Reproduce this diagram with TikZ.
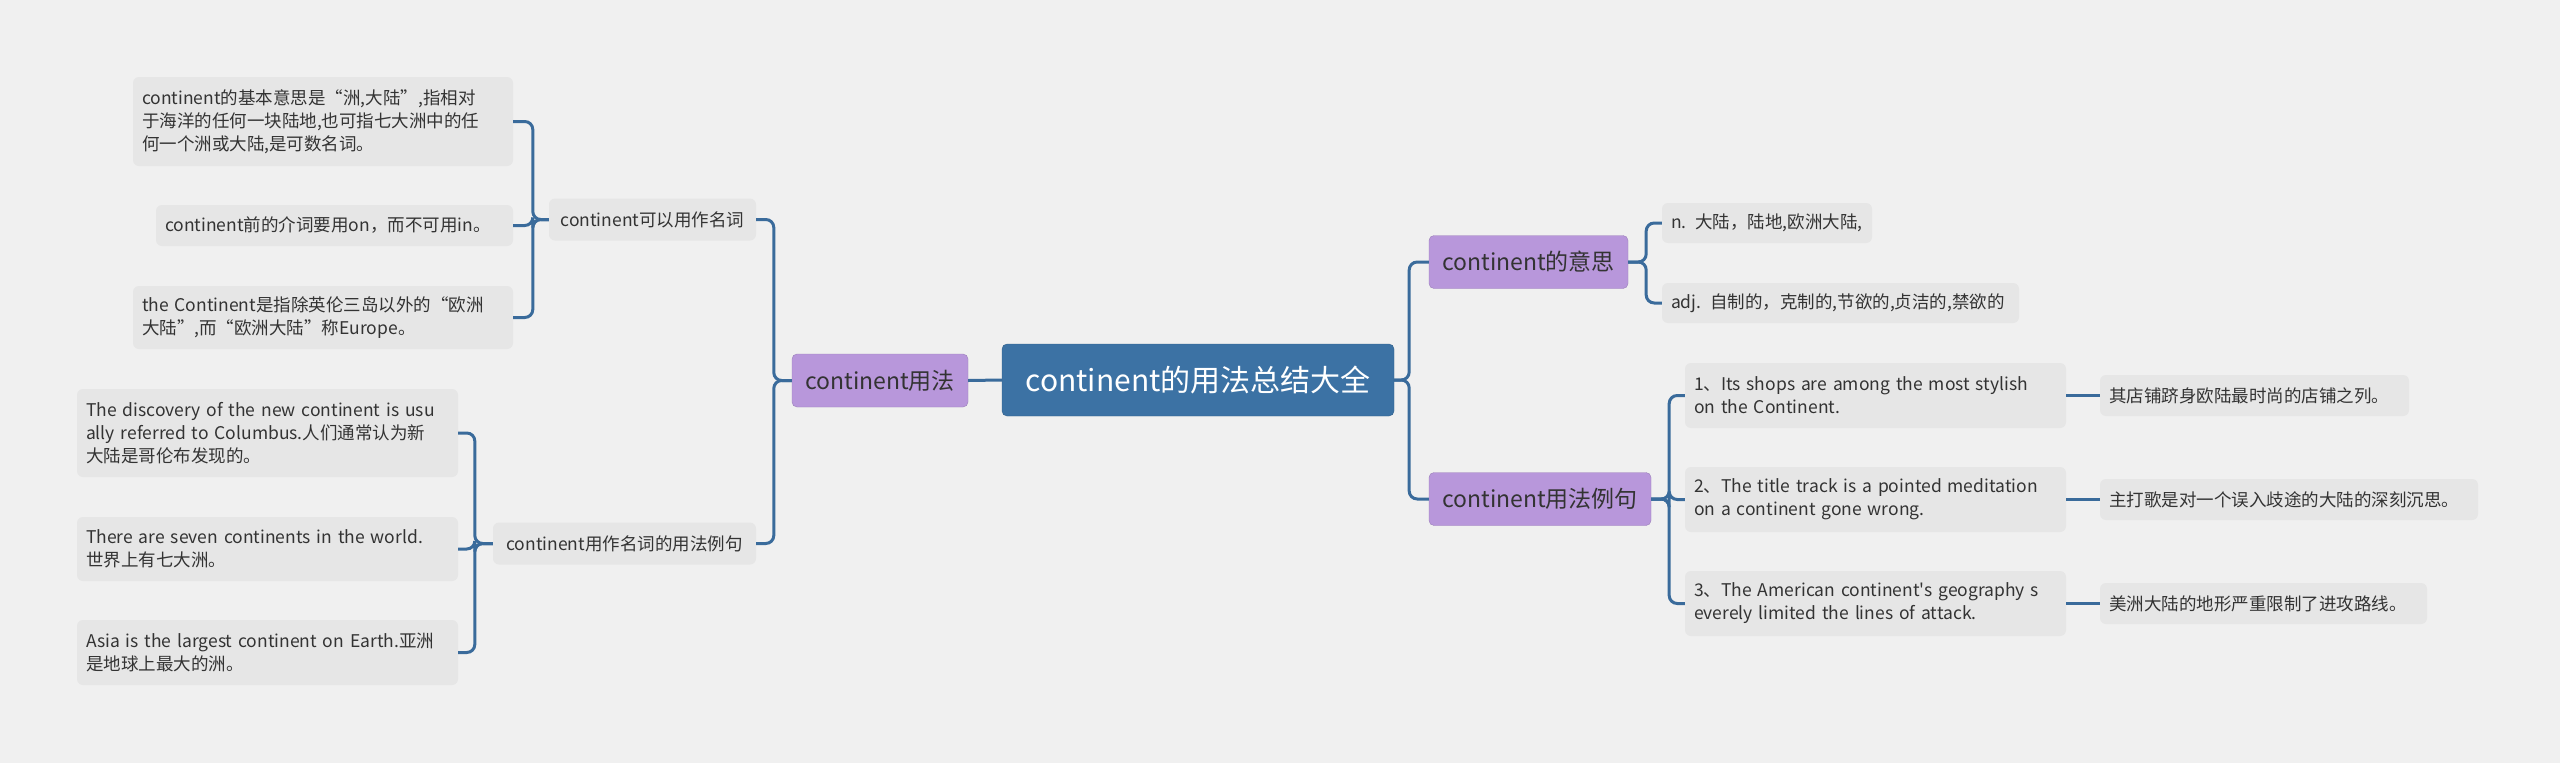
\documentclass[tikz,border=0pt]{standalone}
\usepackage{fontspec}
\setmainfont{Noto Sans CJK SC}[Ligatures=TeXOff]
\usepackage{tikz}
\usetikzlibrary{positioning,calc}
\definecolor{fondo}{HTML}{F0F0F0}
\definecolor{raizazul}{HTML}{3C72A4}
\definecolor{ramamorado}{HTML}{B897DB}
\definecolor{hojagris}{HTML}{E6E6E6}
\definecolor{lineaazul}{HTML}{3A6B9B}
\definecolor{texto}{HTML}{333333}

\begin{document}
\begin{tikzpicture}[
  x=1pt, y=-1pt,
  root/.style={
    fill=raizazul, draw=raizazul!85!black, rounded corners=5pt,
    text=white, font=\fontsize{30}{34}\selectfont,
    minimum width=392pt, minimum height=72pt
  },
  rama/.style={
    fill=ramamorado, draw=ramamorado!85!black, rounded corners=5pt,
    text=texto, font=\fontsize{23}{27}\selectfont, minimum height=53pt
  },
  sub/.style={
    fill=hojagris, rounded corners=6pt, text=texto,
    font=\fontsize{17.5}{23}\selectfont, minimum height=42pt
  },
  hoja/.style={
    fill=hojagris, rounded corners=6pt, text=texto, align=left,
    font=\fontsize{17.5}{23}\selectfont, inner xsep=9pt
  },
  link/.style={draw=lineaazul, line width=3pt, rounded corners=8pt}
]
\useasboundingbox[fill=fondo] (0,0) rectangle (2560,763);

% Raiz
\node[root] (raiz) at (1198,380) {continent的用法总结大全};

% Ramas principales
\node[rama, minimum width=176pt] (uso) at (880,380.5) {continent用法};
\node[rama, minimum width=199pt] (sentido) at (1528.5,262) {continent的意思};
\node[rama, minimum width=222pt] (ejemplos) at (1540,499) {continent用法例句};

% Subramas izquierda
\node[sub, minimum width=207pt] (sustantivo) at (652.5,219.5) {continent可以用作名词};
\node[sub, minimum width=263pt] (frases) at (624.5,543.5) {continent用作名词的用法例句};

% Hojas: sustantivo
\node[hoja, text width=362pt, minimum height=89pt] (def1) at (323,121.5)
  {continent的基本意思是“洲,大陆”,指相对\\于海洋的任何一块陆地,也可指七大洲中的任\\何一个洲或大陆,是可数名词。};
\node[hoja, text width=339pt, minimum height=41pt] (def2) at (334.5,225.5)
  {continent前的介词要用on，而不可用in。};
\node[hoja, text width=362pt, minimum height=63pt] (def3) at (323,317.5)
  {the Continent是指除英伦三岛以外的“欧洲\\大陆”,而“欧洲大陆”称Europe。};

% Hojas: frases
\node[hoja, text width=363pt, minimum height=88pt] (frase1) at (267.5,433)
  {The discovery of the new continent is usu\\ally referred to Columbus.人们通常认为新\\大陆是哥伦布发现的。};
\node[hoja, text width=363pt, minimum height=64pt] (frase2) at (267.5,549)
  {There are seven continents in the world.\\世界上有七大洲。};
\node[hoja, text width=363pt, minimum height=65pt] (frase3) at (267.5,652.5)
  {Asia is the largest continent on Earth.亚洲\\是地球上最大的洲。};

% Hojas: sentido
\node[hoja, text width=192pt, minimum height=40pt] (nom) at (1767,223)
  {n. 大陆，陆地,欧洲大陆,};
\node[hoja, text width=339pt, minimum height=40pt] (adj) at (1840.5,303)
  {adj. 自制的，克制的,节欲的,贞洁的,禁欲的};

% Hojas: ejemplos
\node[hoja, text width=363pt, minimum height=65pt] (ej1) at (1875.5,395.5)
  {1、Its shops are among the most stylish\\on the Continent.};
\node[hoja, text width=363pt, minimum height=65pt] (ej2) at (1875.5,499.5)
  {2、The title track is a pointed meditation\\on a continent gone wrong.};
\node[hoja, text width=363pt, minimum height=65pt] (ej3) at (1875.5,603.5)
  {3、The American continent's geography s\\everely limited the lines of attack.};

% Traducciones
\node[hoja, text width=291pt, minimum height=41pt] (tr1) at (2254.5,395.5)
  {其店铺跻身欧陆最时尚的店铺之列。};
\node[hoja, text width=360pt, minimum height=41pt] (tr2) at (2289,499.5)
  {主打歌是对一个误入歧途的大陆的深刻沉思。};
\node[hoja, text width=309pt, minimum height=41pt] (tr3) at (2263.5,603.5)
  {美洲大陆的地形严重限制了进攻路线。};

% Conectores izquierda
\draw[link] (raiz.west) -- (uso.east);
\draw[link] (uso.west) -- ++(-18,0) |- (sustantivo.east);
\draw[link] (uso.west) -- ++(-18,0) |- (frases.east);
\draw[link] (sustantivo.west) -- ++(-16,0) |- (def1.east);
\draw[link] (sustantivo.west) -- ++(-16,0) |- (def2.east);
\draw[link] (sustantivo.west) -- ++(-16,0) |- (def3.east);
\draw[link] (frases.west) -- ++(-18,0) |- (frase1.east);
\draw[link] (frases.west) -- ++(-18,0) |- (frase2.east);
\draw[link] (frases.west) -- ++(-18,0) |- (frase3.east);

% Conectores derecha
\draw[link] (raiz.east) -- ++(15,0) |- (sentido.west);
\draw[link] (raiz.east) -- ++(15,0) |- (ejemplos.west);
\draw[link] (sentido.east) -- ++(18,0) |- (nom.west);
\draw[link] (sentido.east) -- ++(18,0) |- (adj.west);
\draw[link] (ejemplos.east) -- ++(18,0) |- (ej1.west);
\draw[link] (ejemplos.east) -- ++(18,0) |- (ej2.west);
\draw[link] (ejemplos.east) -- ++(18,0) |- (ej3.west);
\draw[link] (ej1.east) -- (tr1.west);
\draw[link] (ej2.east) -- (tr2.west);
\draw[link] (ej3.east) -- (tr3.west);
\end{tikzpicture}
\end{document}
